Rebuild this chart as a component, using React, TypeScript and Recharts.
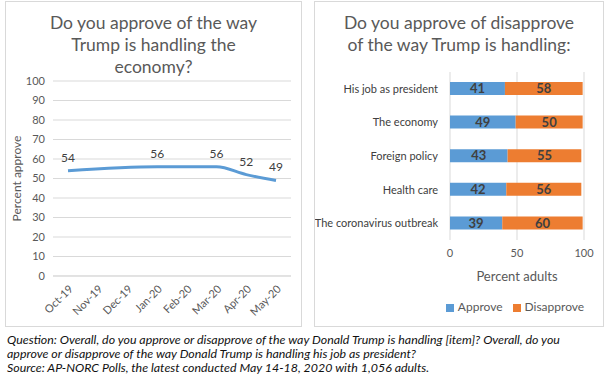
import React from 'react';
import {
  LineChart,
  Line,
  BarChart,
  Bar,
  XAxis,
  YAxis,
  CartesianGrid,
  LabelList,
  Legend,
} from 'recharts';

const MONTHS = ['Oct-19', 'Nov-19', 'Dec-19', 'Jan-20', 'Feb-20', 'Mar-20', 'Apr-20', 'May-20'];
// months without a poll are left empty and the line is drawn across them
const ECONOMY_APPROVE = [54, null, null, 56, null, 56, 52, 49];
const APPROVE_TICKS = [0, 10, 20, 30, 40, 50, 60, 70, 80, 90, 100];

const ITEMS = [
  'His job as president',
  'The economy',
  'Foreign policy',
  'Health care',
  'The coronavirus outbreak',
];
const APPROVE = [41, 49, 43, 42, 39];
const DISAPPROVE = [58, 50, 55, 56, 60];
const ADULT_TICKS = [0, 50, 100];

const BLUE = '#5b9bd5';
const ORANGE = '#ed7d31';
const GRID = '#d9d9d9';
const TEXT = '#595959';
const DARK = '#404040';
const FONT = 'Lato, "Open Sans", sans-serif';

const panelStyle: React.CSSProperties = {
  position: 'absolute',
  top: 1,
  height: 326,
  border: `1px solid ${GRID}`,
  boxSizing: 'border-box',
  background: '#fff',
};

const titleStyle: React.CSSProperties = {
  position: 'absolute',
  left: 0,
  right: 0,
  textAlign: 'center',
  fontSize: 17.5,
  lineHeight: '22px',
  color: TEXT,
};

const tick = { fontSize: 11, fill: TEXT };

const RotatedTick = (props: any) => {
  const { x, y, payload } = props;
  return (
    <text
      x={x}
      y={y}
      dy={8}
      textAnchor="end"
      fontSize={11}
      fill={TEXT}
      transform={`rotate(-45, ${x}, ${y})`}
    >
      {payload.value}
    </text>
  );
};

// single-line category label, no wrapping
const ItemTick = (props: any) => {
  const { x, y, payload } = props;
  return (
    <text x={x} y={y} dy={4} textAnchor="end" fontSize={11} fill={DARK}>
      {payload.value}
    </text>
  );
};

export default function App() {
  const lineData = MONTHS.map((month, i) => ({ month, approve: ECONOMY_APPROVE[i] }));
  const barData = ITEMS.map((item, i) => ({
    item,
    approve: APPROVE[i],
    disapprove: DISAPPROVE[i],
  }));

  return (
    <div
      style={{
        position: 'absolute',
        left: 0,
        top: 0,
        width: 612,
        height: 374,
        background: '#fff',
        fontFamily: FONT,
        overflow: 'hidden',
      }}
    >
      <div style={{ ...panelStyle, left: 5, width: 297 }}>
        <div style={{ ...titleStyle, top: 10 }}>
          Do you approve of the way
          <br />
          Trump is handling the
          <br />
          economy?
        </div>
        <LineChart
          width={295}
          height={324}
          data={lineData}
          margin={{ top: 79, right: 10, bottom: 5, left: 0 }}
        >
          <CartesianGrid stroke={GRID} vertical={false} />
          <XAxis
            dataKey="month"
            interval={0}
            height={45}
            padding={{ left: 15, right: 15 }}
            tickLine={false}
            axisLine={{ stroke: GRID }}
            tick={<RotatedTick />}
          />
          <YAxis
            width={47}
            domain={[0, 100]}
            ticks={APPROVE_TICKS}
            interval={0}
            tickLine={false}
            axisLine={false}
            tick={tick}
            label={{
              value: 'Percent approve',
              angle: -90,
              position: 'insideLeft',
              offset: 11,
              style: { textAnchor: 'middle', fontSize: 12, fill: TEXT },
            }}
          />
          <Line
            type="monotone"
            dataKey="approve"
            stroke={BLUE}
            strokeWidth={3}
            dot={false}
            connectNulls
            isAnimationActive={false}
          >
            <LabelList dataKey="approve" position="top" offset={9} fontSize={12} fill={DARK} />
          </Line>
        </LineChart>
      </div>

      <div style={{ ...panelStyle, left: 314, width: 290 }}>
        <div style={{ ...titleStyle, top: 10 }}>
          Do you approve of disapprove
          <br />
          of the way Trump is handling:
        </div>
        <BarChart
          width={288}
          height={324}
          data={barData}
          layout="vertical"
          margin={{ top: 70, right: 19, bottom: 41, left: 0 }}
        >
          <CartesianGrid stroke={GRID} horizontal={false} />
          <XAxis
            type="number"
            domain={[0, 100]}
            ticks={ADULT_TICKS}
            height={45}
            tickLine={false}
            axisLine={false}
            tickMargin={3}
            tick={tick}
            label={{
              value: 'Percent adults',
              position: 'insideBottom',
              offset: 4,
              style: { fontSize: 13, fill: TEXT },
            }}
          />
          <YAxis
            type="category"
            dataKey="item"
            width={135}
            tickLine={false}
            axisLine={false}
            tickMargin={6}
            tick={<ItemTick />}
          />
          <Legend
            verticalAlign="middle"
            align="center"
            iconType="square"
            iconSize={8}
            wrapperStyle={{ left: 115, top: 297, width: 180, fontSize: 12 }}
            formatter={(value) => <span style={{ color: TEXT }}>{value}</span>}
          />
          <Bar dataKey="approve" name="Approve" stackId="a" fill={BLUE} barSize={13} isAnimationActive={false}>
            <LabelList dataKey="approve" position="center" fontSize={13} fontWeight="bold" fill={DARK} />
          </Bar>
          <Bar dataKey="disapprove" name="Disapprove" stackId="a" fill={ORANGE} barSize={13} isAnimationActive={false}>
            <LabelList dataKey="disapprove" position="center" fontSize={13} fontWeight="bold" fill={DARK} />
          </Bar>
        </BarChart>
      </div>

      <div
        style={{
          position: 'absolute',
          left: 7,
          top: 333,
          fontSize: 12.4,
          lineHeight: '14px',
          fontStyle: 'italic',
          color: '#111',
          whiteSpace: 'nowrap',
        }}
      >
        Question: Overall, do you approve or disapprove of the way Donald Trump is handling [item]? Overall, do you
        <br />
        approve or disapprove of the way Donald Trump is handling his job as president?
        <br />
        Source: AP-NORC Polls, the latest conducted May 14-18, 2020 with 1,056 adults.
      </div>
    </div>
  );
}
